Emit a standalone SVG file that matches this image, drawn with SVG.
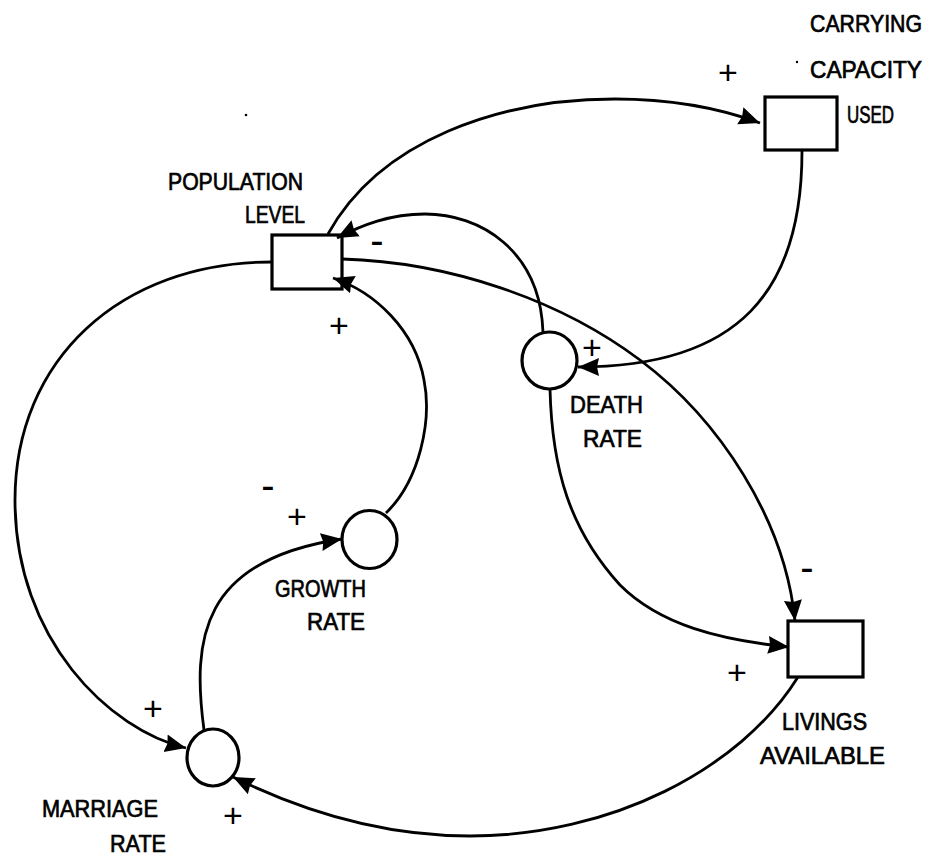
<svg xmlns="http://www.w3.org/2000/svg" width="935" height="856" viewBox="0 0 935 856">
<defs>
<style>
.n{fill:#fff;stroke:#000;stroke-width:3.2}
.c{fill:none;stroke:#000;stroke-width:2.8;marker-end:url(#ah)}
.t{font-family:"Liberation Sans",Arial,sans-serif;font-size:24px;fill:#000;stroke:#000;stroke-width:0.7}
.p{font-family:"Liberation Sans",Arial,sans-serif;font-size:34px;fill:#000;text-anchor:middle}
.m{font-family:"Liberation Sans",Arial,sans-serif;font-size:40px;fill:#000;text-anchor:middle}
</style>
<marker id="ah" markerWidth="24" markerHeight="22" refX="21" refY="11" orient="auto" markerUnits="userSpaceOnUse">
<path d="M0,2 L21,11 L0,20 L2,11 z" fill="#000"/>
</marker>
</defs>
<rect width="935" height="856" fill="#fff"/>

<g id="population-level">
<rect class="n" x="272" y="235" width="70" height="54"/>
<text class="t" x="168" y="190" textLength="135" lengthAdjust="spacingAndGlyphs">POPULATION</text>
<text class="t" x="245" y="223" textLength="60" lengthAdjust="spacingAndGlyphs">LEVEL</text>
</g>
<g id="carrying-capacity-used">
<rect class="n" x="765" y="97" width="72" height="53"/>
<text class="t" x="810" y="32" textLength="112" lengthAdjust="spacingAndGlyphs">CARRYING</text>
<text class="t" x="810" y="78" textLength="112" lengthAdjust="spacingAndGlyphs">CAPACITY</text>
<text class="t" x="847" y="123" textLength="47" lengthAdjust="spacingAndGlyphs">USED</text>
</g>
<g id="livings-available">
<rect class="n" x="788" y="621" width="75" height="56"/>
<text class="t" x="782" y="730" textLength="85" lengthAdjust="spacingAndGlyphs">LIVINGS</text>
<text class="t" x="760" y="764" textLength="125" lengthAdjust="spacingAndGlyphs">AVAILABLE</text>
</g>
<g id="death-rate">
<ellipse class="n" cx="549.5" cy="360.5" rx="27.5" ry="28.5"/>
<text class="t" x="570" y="413" textLength="73" lengthAdjust="spacingAndGlyphs">DEATH</text>
<text class="t" x="583" y="447" textLength="59" lengthAdjust="spacingAndGlyphs">RATE</text>
</g>
<g id="growth-rate">
<ellipse class="n" cx="369.5" cy="539.5" rx="27.5" ry="29"/>
<text class="t" x="275" y="597" textLength="91" lengthAdjust="spacingAndGlyphs">GROWTH</text>
<text class="t" x="307" y="630" textLength="58" lengthAdjust="spacingAndGlyphs">RATE</text>
</g>
<g id="marriage-rate">
<ellipse class="n" cx="213" cy="757.5" rx="26" ry="28.5"/>
<text class="t" x="42" y="817" textLength="116" lengthAdjust="spacingAndGlyphs">MARRIAGE</text>
<text class="t" x="110" y="852" textLength="56" lengthAdjust="spacingAndGlyphs">RATE</text>
</g>

<g id="connectors">
<path class="c" d="M328,234 C380,140 500,99 615,99 C680,99 730,112 760,123"/>
<path class="c" d="M543,332 C540,250 480,214 425,214 C390,214 362,225 337,238"/>
<path class="c" d="M342,259 C450,262 560,300 640,360 C720,420 785,520 795,621"/>
<path class="c" d="M802,151 C802,290 740,367 578,367"/>
<path class="c" d="M550,389 C552,470 570,530 620,585 C660,625 720,640 789,647"/>
<path class="c" d="M386,513 C420,480 432,420 424,380 C415,330 375,292 333,278"/>
<path class="c" d="M272,262 C120,262 15,360 15,500 C15,640 110,730 186,748"/>
<path class="c" d="M204,730 C192,640 200,560 342,539"/>
<path class="c" d="M798,677 C740,770 610,836 470,836 C380,836 300,810 233,777"/>
</g>

<g id="polarities">
<text class="p" x="339" y="337">+</text>
<text class="p" x="728" y="84">+</text>
<text class="p" x="592" y="359">+</text>
<text class="p" x="297" y="528">+</text>
<text class="p" x="737" y="684">+</text>
<text class="p" x="153" y="720">+</text>
<text class="p" x="233" y="827">+</text>
<text class="m" x="377" y="254">-</text>
<text class="m" x="268" y="499">-</text>
<text class="m" x="807" y="581">-</text>
</g>
<circle cx="246" cy="115" r="1.3" fill="#000"/>
<circle cx="797" cy="62" r="1.2" fill="#000"/>
</svg>
